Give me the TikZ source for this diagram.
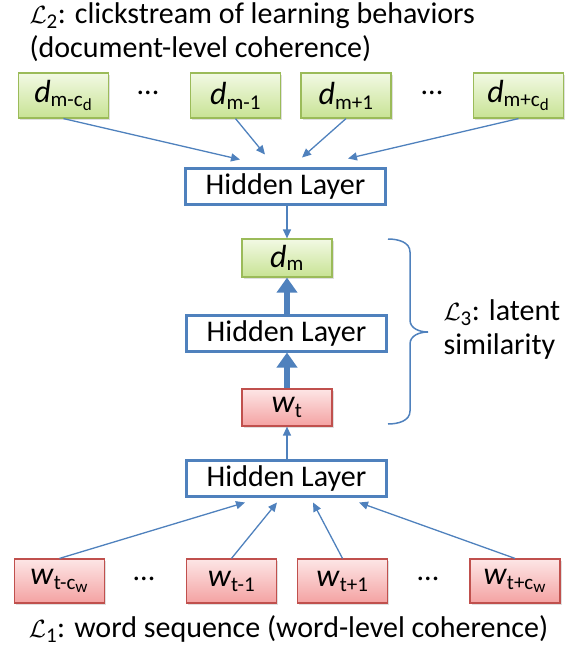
\documentclass[tikz,border=0pt]{standalone}
\usepackage{amsmath}
\usepackage{fontspec}
\setmainfont{Carlito}
\usetikzlibrary{arrows.meta,positioning,shadows}
\DeclareMathSizes{32}{32}{21}{17}

\definecolor{hidblue}{HTML}{4F81BD}
\definecolor{docline}{HTML}{9BBB59}
\definecolor{doctop}{HTML}{F2F9E4}
\definecolor{docbot}{HTML}{C8E394}
\definecolor{wordline}{HTML}{C0504D}
\definecolor{wordtop}{HTML}{FDE6E6}
\definecolor{wordbot}{HTML}{F4A2A2}

\begin{document}
\begin{tikzpicture}[%
            x=1pt, y=1pt,
            bigfont/.style={font=\fontsize{30}{34}\selectfont},
            hidden/.style={
                draw=hidblue, line width=3pt, fill=white,
                minimum width=200pt, minimum height=36pt, inner sep=0pt,
                bigfont,
            },
            cell/.style={
                line width=1.2pt, minimum width=90pt, inner sep=0pt,
                font=\fontsize{32}{32}\selectfont,
                drop shadow={shadow xshift=1.5pt, shadow yshift=-1.5pt, opacity=.25},
            },
            docbox/.style={cell, draw=docline, top color=doctop, bottom color=docbot},
            wordbox/.style={cell, draw=wordline, top color=wordtop, bottom color=wordbot},
            link/.style={draw=hidblue, line width=1.3pt, -{Triangle[length=9pt,width=8pt]}},
            fatlink/.style={draw=hidblue, line width=6pt, -{Triangle[length=15pt,width=20pt]}},
        ]
        \useasboundingbox (0,0) rectangle (575,-648);

        % document layer
        \node[anchor=west, align=left, bigfont] (ltwo) at (26,-32)
            {$\mathcal{L}_\text{2}$: clickstream of learning behaviors\\(document-level coherence)};
        \node[docbox, minimum height=45pt] (dmcd) at (63.5,-95.5) {\textit{d}$_{\text{m-c}_\text{d}}$};
        \node[bigfont] (ddotsl) at (148,-93) {...};
        \node[docbox, minimum height=45pt] (dmone) at (235.5,-95.5) {\textit{d}$_\text{m-1}$};
        \node[docbox, minimum height=45pt] (dpone) at (346,-95.5) {\textit{d}$_\text{m+1}$};
        \node[bigfont] (ddotsr) at (432,-93) {...};
        \node[docbox, minimum height=45pt] (dpcd) at (518.5,-95.5) {\textit{d}$_{\text{m+c}_\text{d}}$};

        \node[hidden] (hidtop) at (285.5,-186) {Hidden Layer};
        \draw[link] (dmcd.south) -- ([xshift=-45.5pt,yshift=7pt]hidtop.north);
        \draw[link] (dmone.south) -- ([xshift=-20.5pt,yshift=12pt]hidtop.north);
        \draw[link] (dpone.south) -- ([xshift=16.5pt,yshift=9pt]hidtop.north);
        \draw[link] (dpcd.south) -- ([xshift=62.5pt,yshift=8pt]hidtop.north);

        % latent similarity
        \node[docbox, minimum height=38pt] (dm) at (287,-258) {\textit{d}$_\text{m}$};
        \node[hidden] (hidmid) at (286.5,-333) {Hidden Layer};
        \node[wordbox, minimum height=37pt] (wt) at (287,-407.5) {\textit{w}$_\text{t}$};
        \draw[link] (hidtop.south -| dm.north) -- (dm.north);
        \draw[fatlink] (wt.north) -- (hidmid.south -| wt.north);
        \draw[fatlink] (hidmid.north -| dm.south) -- (dm.south);

        \draw[hidblue, line width=1.5pt]
            (388,-239) to[out=0,in=90] (410,-252) -- (410,-320)
            to[out=-90,in=180] (428,-332) to[out=180,in=90] (410,-344)
            -- (410,-411) to[out=-90,in=0] (388,-424);
        \node[anchor=west, align=left, bigfont] (lthree) at (440,-329.5)
            {$\mathcal{L}_\text{3}$: latent\\similarity};

        % word layer
        \node[hidden] (hidbot) at (286.5,-478) {Hidden Layer};
        \draw[link] (hidbot.north -| wt.south) -- (wt.south);
        \node[wordbox, minimum height=44pt] (wtcw) at (59.5,-581) {\textit{w}$_{\text{t-c}_\text{w}}$};
        \node[bigfont] (wdotsl) at (144,-579) {...};
        \node[wordbox, minimum height=44pt] (wtone) at (231.5,-581) {\textit{w}$_\text{t-1}$};
        \node[wordbox, minimum height=44pt] (wpone) at (342.5,-581) {\textit{w}$_\text{t+1}$};
        \node[bigfont] (wdotsr) at (428,-579) {...};
        \node[wordbox, minimum height=44pt] (wpcw) at (515,-581) {\textit{w}$_{\text{t+c}_\text{w}}$};
        \draw[link] (wtcw.north) -- ([xshift=-41.5pt,yshift=-5pt]hidbot.south);
        \draw[link] (wtone.north) -- ([xshift=-9.5pt,yshift=-5pt]hidbot.south);
        \draw[link] (wpone.north) -- ([xshift=26.5pt,yshift=-5pt]hidbot.south);
        \draw[link] (wpcw.north) -- ([xshift=72.5pt,yshift=-5pt]hidbot.south);
        \node[bigfont] (lone) at (288.5,-629)
            {$\mathcal{L}_\text{1}$: word sequence (word-level coherence)};
    \end{tikzpicture}
\end{document}
